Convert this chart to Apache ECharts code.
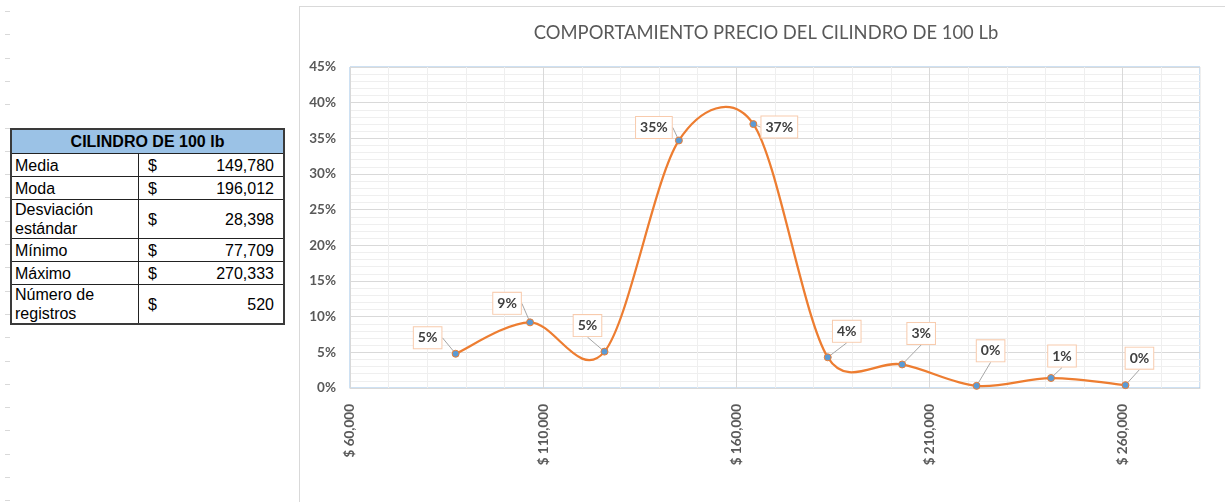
<!DOCTYPE html>
<html>
<head>
<meta charset="utf-8">
<script src="https://cdn.jsdelivr.net/npm/echarts@6/dist/echarts.min.js"></script>
<style>
  html, body { margin: 0; padding: 0; background: #fff; }
  body { width: 1225px; height: 502px; position: relative; overflow: hidden; }
  .rowmarks {
    position: absolute; left: 5px; top: 0; width: 5px; height: 502px;
    background: repeating-linear-gradient(to bottom, transparent 0, transparent 11px, #d9d9d9 11px, #d9d9d9 12px, transparent 12px, transparent 23.3px);
  }
  .stats {
    position: absolute; left: 10px; top: 128px; width: 275px;
    border-collapse: collapse; font-family: "Liberation Sans", Arial, sans-serif;
    font-size: 16px; color: #000; border: 2px solid #3a3a3a;
  }
  .stats td, .stats th { border: 1px solid #222; padding: 0 3px; line-height: 19px; }
  .stats th { background: #9bc2e6; font-weight: bold; height: 23px; text-align: center; }
  .stats td { height: 22px; }
  .stats td.two { height: 38px; }
  .stats td.name { width: 120px; }
  .stats td.money { padding: 0 9px 0 9px; }
  .money span { display: flex; justify-content: space-between; }
  .frame {
    position: absolute; left: 299px; top: 6px; width: 926px; height: 496px;
    border-left: 1px solid #d9d9d9; border-top: 1px solid #d9d9d9; box-sizing: border-box;
  }
  #chart { position: absolute; left: 300px; top: 7px; width: 925px; height: 495px; }
</style>
</head>
<body>
<div class="rowmarks"></div>
<table class="stats" id="stats"></table>
<div class="frame"></div>
<div id="chart"></div>
<script>
// summary table
const statTitle = 'CILINDRO DE 100 lb'
const statNames = ['Media', 'Moda', 'Desviación estándar', 'Mínimo', 'Máximo', 'Número de registros']
const statValues = ['149,780', '196,012', '28,398', '77,709', '270,333', '520']

// histogram points: class mid price and share of records
const priceMid = [87340, 106603, 125865, 145127, 164390, 183652, 202915, 222177, 241440, 260702]
const share = [0.048, 0.092, 0.051, 0.347, 0.370, 0.043, 0.033, 0.003, 0.014, 0.004]

const chartTitle = 'COMPORTAMIENTO PRECIO DEL CILINDRO DE 100 Lb'

// where each data label sits relative to its point (px)
const labelShift = [[-28, -16], [-23, -19], [-17, -26], [-25, -13], [26, 3], [19, -26], [19, -31], [14, -35], [11, -22], [14, -27]]

const tbl = document.getElementById('stats')
tbl.innerHTML = `<tr><th colspan="2">${statTitle}</th></tr>` +
  statNames.map((n, i) => {
    const cls = n.length > 12 ? ' two' : ''
    return `<tr><td class="name${cls}">${n}</td><td class="money${cls}"><span><b style="font-weight:normal">$</b><i style="font-style:normal">${statValues[i]}</i></span></td></tr>`
  }).join('')

const money = (v) => '$ ' + v.toLocaleString('en-US')
const pct = (v) => Math.round(v * 100) + '%'

// excel style smoothed segment between point i and i+1:
// arm = (next - prev) / 6, capped at half the segment length
function arm(from, to, segLen) {
  const dx = (to[0] - from[0]) / 6
  const dy = (to[1] - from[1]) / 6
  const len = Math.hypot(dx, dy)
  const k = len > segLen / 2 ? segLen / 2 / len : 1
  return [dx * k, dy * k]
}

function renderSegment(params, api) {
  const i = params.dataIndex
  const last = priceMid.length - 1
  if (i >= last) return
  const pt = (k) => {
    k = Math.max(0, Math.min(last, k))
    return api.coord([priceMid[k], share[k]])
  }
  const p0 = pt(i - 1), p1 = pt(i), p2 = pt(i + 1), p3 = pt(i + 2)
  const d12 = Math.hypot(p2[0] - p1[0], p2[1] - p1[1])
  const a1 = arm(p0, p2, d12)
  const a2 = arm(p1, p3, d12)
  return {
    type: 'bezierCurve',
    shape: {
      x1: p1[0], y1: p1[1], x2: p2[0], y2: p2[1],
      cpx1: p1[0] + a1[0], cpy1: p1[1] + a1[1],
      cpx2: p2[0] - a2[0], cpy2: p2[1] - a2[1]
    },
    style: { stroke: '#ed7d31', lineWidth: 2.25, fill: 'none', lineCap: 'round' }
  }
}

const chart = echarts.init(document.getElementById('chart'))
chart.setOption({
  animation: false,
  textStyle: { fontFamily: 'Lato' },
  title: {
    text: chartTitle,
    left: 461,
    textAlign: 'center',
    top: 12,
    textStyle: { fontFamily: 'Lato', fontSize: 18.4, fontWeight: 'normal', color: '#595959' }
  },
  grid: {
    left: 50, right: 25, top: 60, bottom: 114,
    show: true, borderColor: '#9dc3e6', borderWidth: 1
  },
  xAxis: {
    type: 'value',
    min: 60000,
    max: 280000,
    interval: 10000,
    axisLine: { show: true, lineStyle: { color: '#d9d9d9' } },
    axisTick: { show: false },
    axisLabel: {
      rotate: 90,
      margin: 16,
      color: '#595959',
      fontWeight: 'bold',
      fontSize: 13.5,
      fontFamily: 'Lato',
      showMaxLabel: false,
      formatter: (v) => ((v - 60000) % 50000 === 0 && v < 280000 ? money(v) : '')
    },
    splitLine: {
      show: true,
      lineStyle: { color: ['#d9d9d9', '#efefef', '#efefef', '#efefef', '#efefef'] }
    }
  },
  yAxis: {
    type: 'value',
    min: 0,
    max: 0.45,
    interval: 0.05,
    axisLine: { show: true, lineStyle: { color: '#d9d9d9' } },
    axisTick: { show: false },
    axisLabel: {
      margin: 14,
      color: '#595959',
      fontWeight: 'bold',
      fontSize: 13.5,
      fontFamily: 'Lato',
      formatter: pct
    },
    splitLine: { lineStyle: { color: '#d9d9d9' } },
    minorTick: { show: false, splitNumber: 5 },
    minorSplitLine: { show: true, lineStyle: { color: '#efefef' } }
  },
  series: [
    {
      type: 'custom',
      renderItem: renderSegment,
      data: priceMid.map((p, i) => [p, share[i]]),
      encode: { x: 0, y: 1 },
      silent: true,
      z: 2
    },
    {
      type: 'scatter',
      data: priceMid.map((p, i) => [p, share[i]]),
      symbol: 'circle',
      symbolSize: 7,
      z: 3,
      itemStyle: { color: '#5b9bd5', borderColor: '#ed7d31', borderWidth: 1, opacity: 1 },
      label: {
        show: true,
        position: 'inside',
        formatter: ({ value }) => pct(value[1]),
        fontFamily: 'Lato',
        fontSize: 14,
        fontWeight: 'bold',
        color: '#404040',
        backgroundColor: '#fff',
        borderColor: '#f8cbad',
        borderWidth: 1,
        padding: [4, 4, 3, 4]
      },
      labelLine: {
        show: true,
        lineStyle: { color: '#a6a6a6', width: 1 }
      },
      labelLayout: (p) => ({ dx: labelShift[p.dataIndex][0], dy: labelShift[p.dataIndex][1] })
    }
  ]
})
</script>
</body>
</html>
